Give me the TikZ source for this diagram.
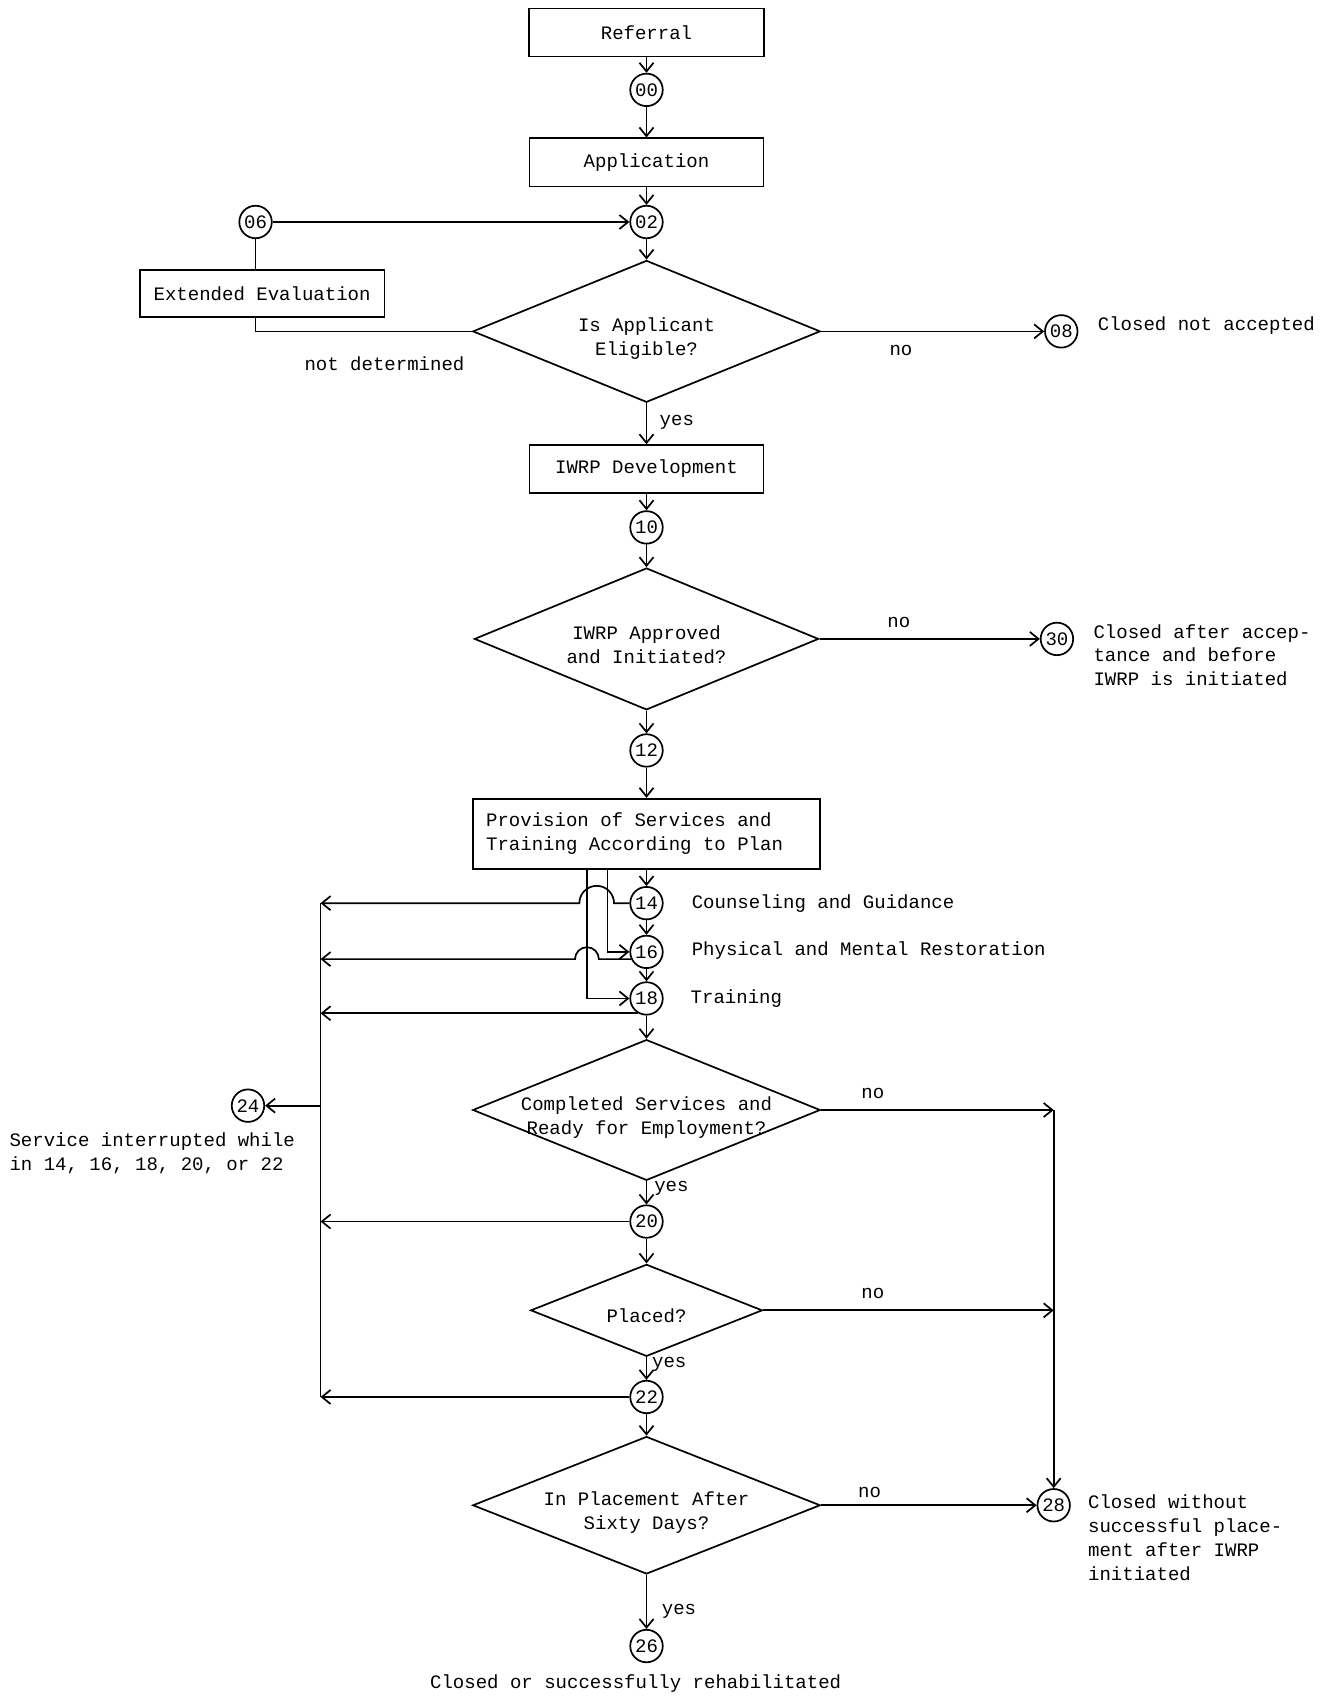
\documentclass[tikz,border=0pt]{standalone}
\usepackage{fontspec}
\setmainfont{Liberation Mono}
\usetikzlibrary{shapes.geometric,arrows.meta}

\tikzstyle{stage}=[draw,rectangle,minimum height=0.89cm,inner sep=2pt]
\tikzstyle{status}=[draw,circle,minimum size=0.6cm,inner sep=0pt]
\tikzstyle{query}=[draw,diamond,inner sep=0pt]
\tikzstyle{flow}=[draw,->]
\tikzstyle{note}=[inner sep=0pt,align=left]

\newcommand{\qtext}[1]{\raisebox{-6.5pt}[0pt][0pt]{\makebox[0pt]{\begin{tabular}{@{}c@{}}#1\end{tabular}}}}

\begin{document}
\begin{tikzpicture}[x=0.02cm,y=-0.02cm,line width=0.9pt,>={Straight Barb[length=1.6mm,width=2.6mm]},font=\fontsize{10}{12.5}\selectfont]
		\useasboundingbox (0,0) rectangle (1227,1568);
		% Main column
		\node[stage,minimum width=4.34cm] (referral) at (597,30) {Referral};
		\node[status] (n00) at (597,83) {00};
		\node[stage,minimum width=4.32cm] (appl) at (597,150) {Application};
		\node[status] (n02) at (597,205) {02};
		\node[query,minimum width=6.42cm,minimum height=2.62cm] (elig) at (597,306) {\qtext{Is Applicant\\Eligible?}};
		\node[stage,minimum width=4.32cm,minimum height=0.88cm] (dev) at (597,433) {IWRP Development};
		\node[status] (n10) at (597,487) {10};
		\node[query,minimum width=6.36cm,minimum height=2.62cm] (appr) at (597,590) {\qtext{IWRP Approved\\and Initiated?}};
		\node[status] (n12) at (597,693) {12};
		\node[stage,minimum width=6.42cm,minimum height=1.3cm] (prov) at (597,770) {\begin{tabular}{@{}l@{}}Provision of Services and\\Training According to Plan\end{tabular}\rule{0.44cm}{0pt}};
		\node[status] (n14) at (597,834) {14};
		\node[status] (n16) at (597,879) {16};
		\node[status] (n18) at (597,922) {18};
		\node[query,minimum width=6.42cm,minimum height=2.6cm] (ready) at (597,1025) {\qtext{Completed Services and\\Ready for Employment?}};
		\node[status] (n20) at (597,1128) {20};
		\node[query,minimum width=4.28cm,minimum height=1.7cm] (placed) at (597,1210) {\qtext{Placed?}};
		\node[status] (n22) at (597,1290) {22};
		\node[query,minimum width=6.42cm,minimum height=2.54cm] (sixty) at (597,1390) {\qtext{In Placement After\\Sixty Days?}};
		\node[status] (n26) at (597,1520) {26};
		% Side nodes and closures
		\node[status] (n06) at (236,205) {06};
		\node[stage,minimum width=4.52cm,minimum height=0.88cm] (ext) at (242,271) {Extended Evaluation};
		\node[status] (n08) at (980,306) {08};
		\node[status] (n30) at (976,590) {30};
		\node[status] (n24) at (229,1021) {24};
		\node[status] (n28) at (973,1390) {28};
		\coordinate (busT) at (296,834);
		\coordinate (busR) at (973,1025);
		\coordinate (hop14) at (567,834);
		\coordinate (hop16) at (553,886);
		% Texts
		\node[note,anchor=west] (t08) at (1013,301) {Closed not accepted};
		\node[note,anchor=west] (t30) at (1009,605) {Closed after accep-\\tance and before\\IWRP is initiated};
		\node[note,anchor=west] (t14) at (638,834) {Counseling and Guidance};
		\node[note,anchor=west] (t16) at (638,878) {Physical and Mental Restoration};
		\node[note,anchor=west] (t18) at (637,922) {Training};
		\node[note,anchor=west] (t24) at (8,1065) {Service interrupted while\\in 14, 16, 18, 20, or 22};
		\node[note,anchor=west] (t28) at (1004,1420) {Closed without\\successful place-\\ment after IWRP\\initiated};
		\node[note] (t26) at (587,1555) {Closed or successfully rehabilitated};
		\node[note] (undet) at (355,336) {not determined};
		\node[note] (no1) at (832,324) {no};
		\node[note] (no2) at (830,575) {no};
		\node[note] (no3) at (806,1010) {no};
		\node[note] (no4) at (806,1194) {no};
		\node[note] (no5) at (803,1378) {no};
		\node[note] (yes1) at (625,390) {yes};
		\node[note] (yes2) at (620,1097) {yes};
		\node[note] (yes3) at (618,1260) {yes};
		\node[note] (yes4) at (627,1488) {yes};
		% Down the main column
		\foreach \source/ \dest in {referral/n00, n00/appl, appl/n02, n02/elig, elig/dev, dev/n10, n10/appr, appr/n12, n12/prov, prov/n14, n14/n16, n16/n18, n18/ready, ready/n20, n20/placed, placed/n22, n22/sixty, sixty/n26}
			\path[flow] (\source) -- (\dest);
		% Evaluation loop
		\path[flow] (n06) -- (n02);
		\draw (n06) -- (n06 |- ext.north);
		\draw (elig.west) -| (n06 |- ext.south);
		\path[flow] (elig.east) -- (n08);
		\path[flow] (appr.east) -- (n30);
		% Services
		\path[flow] ([xshift=-0.72cm]prov.south) |- (n16.west);
		\path[flow] ([xshift=-1.1cm]prov.south) |- (n18.west);
		\path[flow] (n14.west) -- (hop14) arc[start angle=0,end angle=180,radius=0.32cm] -- (busT);
		\path[flow] (n16.205) -- (n16.205 -| hop16) arc[start angle=0,end angle=180,radius=0.22cm] -- (n16.205 -| busT);
		\path[flow] (n18.240) -- (n18.240 -| busT);
		\path[flow] (n20.west) -- (n20 -| busT);
		\path[flow] (n22.west) -- (n22 -| busT);
		\draw (busT) -- (n22 -| busT);
		\path[flow] (n24 -| busT) -- (n24.east);
		% Closed without placement
		\path[flow] (ready.east) -- (busR);
		\path[flow] (busR) -- (n28);
		\path[flow] (placed.east) -- (placed.east -| busR);
		\path[flow] (sixty.east) -- (n28);
\end{tikzpicture}
\end{document}
